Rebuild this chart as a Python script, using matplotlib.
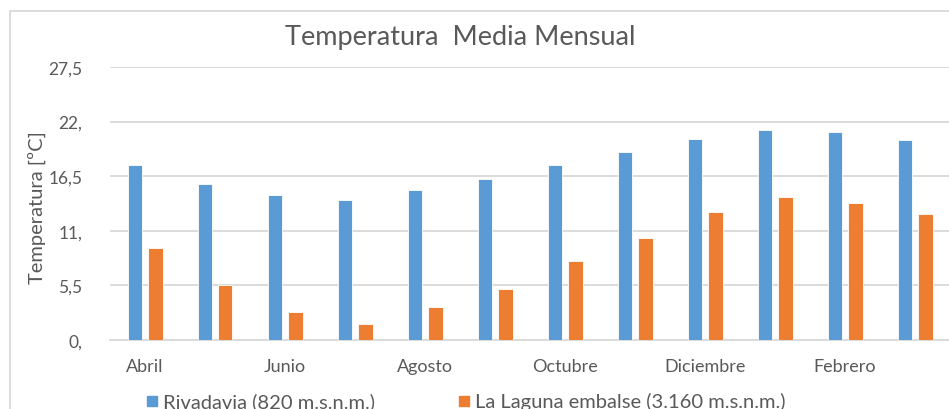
import matplotlib
matplotlib.use("Agg")
import matplotlib.pyplot as plt
from matplotlib.patches import Rectangle
import numpy as np

months = ["Abril", "Mayo", "Junio", "Julio", "Agosto", "Septiembre", "Octubre",
          "Noviembre", "Diciembre", "Enero", "Febrero", "Marzo"]
rivadavia = [17.6, 15.75, 14.6, 14.1, 15.1, 16.25, 17.6, 18.95, 20.25, 21.2, 20.95, 20.1]
laguna = [9.25, 5.5, 2.85, 1.65, 3.3, 5.1, 8.0, 10.25, 12.85, 14.45, 13.85, 12.65]
yticks = [0, 5.5, 11, 16.5, 22, 27.5]
ytick_labels = ["0,", "5,5", "11,", "16,5", "22,", "27,5"]
series_names = ["Rivadavia (820 m.s.n.m.)", "La Laguna embalse (3.160 m.s.n.m.)"]

plt.rcParams['font.family'] = ['Lato', 'DejaVu Sans']
TXT = "#595959"
BLUE = "#5B9BD5"
ORANGE = "#ED7D31"
GRID = "#D9D9D9"

W, H = 949, 410
fig = plt.figure(figsize=(W / 100, H / 100), dpi=100)
fig.patch.set_facecolor("white")

# chart border
fig.patches.append(Rectangle((10 / W, -0.1), 1.2, (H - 12) / H + 0.1, transform=fig.transFigure,
                             fill=False, edgecolor=GRID, linewidth=1.3))

ax = fig.add_axes([110 / W, 1 - 341 / H, 840 / W, (341 - 68) / H])
x = np.arange(len(months))
bw = 0.214
off = 0.143
ax.bar(x - off, rivadavia, bw, color=BLUE, edgecolor="white", linewidth=0.6, zorder=3,
       label=series_names[0])
ax.bar(x + off, laguna, bw, color=ORANGE, edgecolor="white", linewidth=0.6, zorder=3,
       label=series_names[1])
ax.set_xlim(-0.5, len(months) - 0.5)
ax.set_ylim(0, 27.5)
ax.set_yticks(yticks)
ax.set_yticklabels(ytick_labels)
ax.set_xticks(x[::2])
ax.set_xticklabels(months[::2])
ax.tick_params(axis="both", length=0, colors=TXT, labelsize=13)
ax.tick_params(axis="y", labelsize=12.5, pad=20)
ax.tick_params(axis="x", pad=13)
ax.grid(axis="y", color=GRID, linewidth=1.3, zorder=0)
for s in ["top", "right", "left"]:
    ax.spines[s].set_visible(False)
ax.spines["bottom"].set_color(GRID)
ax.spines["bottom"].set_linewidth(1.3)
ax.set_ylabel("Temperatura [ºC]", color=TXT, fontsize=14.5)
ax.yaxis.set_label_coords(-73 / 840, 0.49)
ax.yaxis.label.set_verticalalignment("center")

fig.text(460 / W, 1 - 37 / H, "Temperatura  Media Mensual", ha="center", va="center",
         fontsize=19.5, color=TXT)

# legend
fig.patches.append(Rectangle((147 / W, 1 - 407 / H), 10 / W, 10 / H, transform=fig.transFigure,
                             color=BLUE))
fig.text(163 / W, 1 - 402 / H, series_names[0], ha="left", va="center", fontsize=14.5, color=TXT)
fig.patches.append(Rectangle((459 / W, 1 - 407 / H), 10 / W, 10 / H, transform=fig.transFigure,
                             color=ORANGE))
fig.text(475 / W, 1 - 402 / H, series_names[1], ha="left", va="center", fontsize=14.5, color=TXT)

fig.savefig("out.png", dpi=100)
